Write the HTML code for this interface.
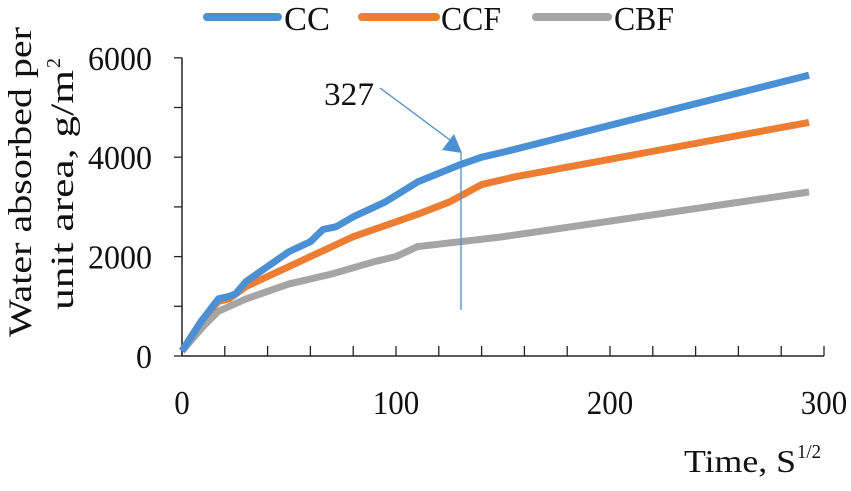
<!DOCTYPE html>
<html><head><meta charset="utf-8"><style>
body{margin:0;background:#fff;width:851px;height:486px;overflow:hidden}
svg text{font-family:"Liberation Serif",serif;fill:#111}
</style></head><body>
<svg width="851" height="486">
<g id="axes"></g><g id="series"></g>
<g>
 <line x1="207" y1="17" x2="278" y2="17" stroke="#4a90d6" stroke-width="8" stroke-linecap="round"/>
 <text x="284" y="30" font-size="34" textLength="46" lengthAdjust="spacingAndGlyphs">CC</text>
 <line x1="362" y1="17" x2="436" y2="17" stroke="#ed7d31" stroke-width="8" stroke-linecap="round"/>
 <text x="441" y="30" font-size="34" textLength="60" lengthAdjust="spacingAndGlyphs">CCF</text>
 <line x1="536" y1="17" x2="608" y2="17" stroke="#a5a5a5" stroke-width="8" stroke-linecap="round"/>
 <text x="614" y="30" font-size="34" textLength="60" lengthAdjust="spacingAndGlyphs">CBF</text>
</g>
<g transform="rotate(-90)">
 <text x="-337" y="31" font-size="33" textLength="310" lengthAdjust="spacingAndGlyphs">Water absorbed per</text>
 <text x="-310" y="73" font-size="33" textLength="240" lengthAdjust="spacingAndGlyphs">unit area, g/m</text>
 <text x="-68" y="60" font-size="20">2</text>
</g>
<g>
 <text x="684" y="472" font-size="32" textLength="112" lengthAdjust="spacingAndGlyphs">Time, S</text>
 <text x="797" y="458" font-size="20" textLength="24" lengthAdjust="spacingAndGlyphs">1/2</text>
</g>
<g>
 <text x="324" y="105" font-size="33" textLength="50" lengthAdjust="spacingAndGlyphs">327</text>
 <line x1="380" y1="88" x2="450" y2="140" stroke="#4a90d6" stroke-width="1.3"/>
 <polygon points="462,153 442,150 454,134" fill="#4a90d6"/>
 <line x1="461" y1="153" x2="461" y2="310" stroke="#4a90d6" stroke-width="1.3"/>
</g>
</svg>
<script>
const xTicks=[0,100,200,300];
const yTicks=[0,2000,4000,6000];
const ccX=[0,9,17,22,25,30,40,50,60,66,72,80,95,110,130,140,150,293];
const ccY=[100,700,1150,1200,1250,1500,1800,2100,2300,2550,2600,2800,3100,3500,3850,4000,4100,5650];
const ccfX=[0,9,17,22,30,50,60,70,80,100,110,125,140,155,293];
const ccfY=[100,700,1100,1150,1400,1800,2000,2200,2400,2700,2850,3100,3450,3600,4700];
const cbfX=[0,10,17,30,50,70,90,100,110,130,150,293];
const cbfY=[100,600,900,1150,1450,1650,1900,2000,2200,2300,2400,3300];
const NS='http://www.w3.org/2000/svg';
const x=v=>182+v*2.14, y=v=>356-v*0.0497;
const ax=document.getElementById('axes'), se=document.getElementById('series');
function mk(tag,at,p){const e=document.createElementNS(NS,tag);for(const k in at)e.setAttribute(k,at[k]);p.appendChild(e);return e;}
let l=mk('line',{x1:x(0),y1:y(0),x2:x(300),y2:y(0),stroke:'#222','stroke-width':1.5},ax);


l=mk('line',{x1:x(0),y1:y(0),x2:x(0),y2:y(6000),stroke:'#222','stroke-width':1.5},ax);


for(let v=0;v<=300;v+=20){mk('line',{x1:x(v),y1:y(0),x2:x(v),y2:y(0)-10,stroke:'#222','stroke-width':1.3},ax);}
for(let v=0;v<=6000;v+=1000){mk('line',{x1:x(0)-8,y1:y(v),x2:x(0),y2:y(v),stroke:'#222','stroke-width':1.3},ax);}
xTicks.forEach(v=>{const s=String(v);const t=mk('text',{x:x(v),y:414,'text-anchor':'middle','font-size':34,textLength:s.length*15.5,lengthAdjust:'spacingAndGlyphs'},ax);t.textContent=s;

});
yTicks.forEach(v=>{const s=String(v);const t=mk('text',{x:152,y:y(v)+12,'text-anchor':'end','font-size':34,textLength:s.length*16,lengthAdjust:'spacingAndGlyphs'},ax);t.textContent=s;

});
[[cbfX,cbfY,'#a5a5a5','series-cbf'],[ccfX,ccfY,'#ed7d31','series-ccf'],[ccX,ccY,'#4a90d6','series-cc']].forEach(([xs,ys,c,n])=>{
 const p=mk('polyline',{points:xs.map((v,i)=>x(v)+','+y(ys[i])).join(' '),fill:'none',stroke:c,'stroke-width':7,'stroke-linejoin':'round'},se);
 
 
});
</script>
</body></html>
